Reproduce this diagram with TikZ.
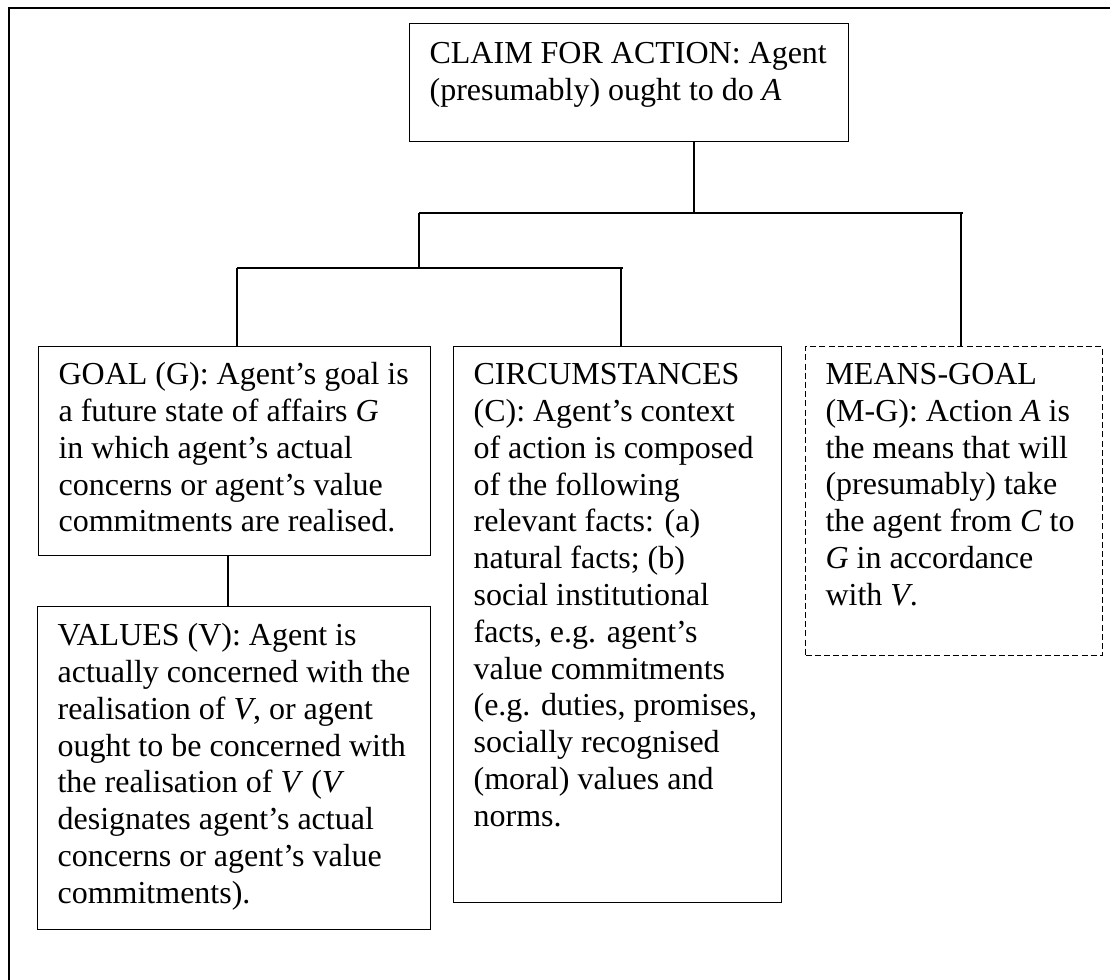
\documentclass[tikz,border=0pt]{standalone}
\usepackage{fontspec}
\setmainfont{Liberation Serif}
\usepackage{tikz}
\usetikzlibrary{positioning}

% top-aligned text block: width, height, first baseline, text
\newcommand{\boxtext}[4]{\parbox[t][#2][t]{#1}{\raggedright\leftskip=10pt\rule{0pt}{#3}#4}}

\begin{document}
\begin{tikzpicture}[
    x = 0.5pt, y = -0.5pt,
    every node/.style = {inner sep = 0pt, font = \fontsize{16pt}{18.4pt}\selectfont},
    box/.style = {draw, line width = 0.6pt, anchor = north west},
    dashedbox/.style = {box, dashed, line width = 0.5pt, dash pattern = on 3pt off 1.6pt},
    link/.style = {line width = 0.7pt}
    ]
    \useasboundingbox (0,0) rectangle (1110,980);
    % frame (only top and left edge in view)
    \draw[line width = 1pt] (9,980) -- (9,8) -- (1110,8);

    \node[box] (claim) at (409,23)
        {\boxtext{219.5pt}{59pt}{20pt}{CLAIM FOR ACTION: Agent\\(presumably) ought to do \textit{A}}};
    \node[box] (goal) at (38,346)
        {\boxtext{196pt}{104.5pt}{19pt}{GOAL (G): Agent's goal is\\a future state of affairs \textit{G}\\in which agent's actual\\concerns or agent's value\\commitments are realised.}};
    \node[box] (values) at (37,606)
        {\boxtext{196.5pt}{161.5pt}{19.5pt}{VALUES (V): Agent is\\actually concerned with the\\realisation of \textit{V}, or agent\\ought to be concerned with\\the realisation of \textit{V} (\textit{V}\\designates agent's actual\\concerns or agent's value\\commitments).}};
    \node[box] (circ) at (453,346)
        {\boxtext{164pt}{278pt}{19pt}{CIRCUMSTANCES\\(C): Agent's context\\of action is composed\\of the following\\relevant facts: (a)\\natural facts; (b)\\social institutional\\facts, e.g. agent's\\value commitments\\(e.g. duties, promises,\\socially recognised\\(moral) values and\\norms.}};
    \node[dashedbox] (means) at (805,346)
        {\boxtext{148.5pt}{154.5pt}{19pt}{MEANS-GOAL\\(M-G): Action \textit{A} is\\the means that will\\(presumably) take\\the agent from \textit{C} to\\\textit{G} in accordance\\with \textit{V}.}};

    % junctions of the tree
    \coordinate (stem) at (694,213);
    \coordinate (upperl) at (419,213);
    \coordinate (upperr) at (961,213);
    \coordinate (lowerl) at (237,268);
    \coordinate (lowerr) at (621,268);
    \coordinate (goaldrop) at (228,555);

    \draw[link] (stem |- claim.south) -- (stem);
    \draw[link] (upperl) -- ([xshift=1pt]upperr);
    \draw[link] (upperr) -- (upperr |- means.north);
    \draw[link] (upperl) -- (upperl |- lowerl);
    \draw[link] (lowerl) -- ([xshift=1pt]lowerr);
    \draw[link] (lowerl) -- (lowerl |- goal.north);
    \draw[link] (lowerr) -- (lowerr |- circ.north);
    \draw[link] (goaldrop |- goal.south) -- (goaldrop |- values.north);
\end{tikzpicture}
\end{document}
